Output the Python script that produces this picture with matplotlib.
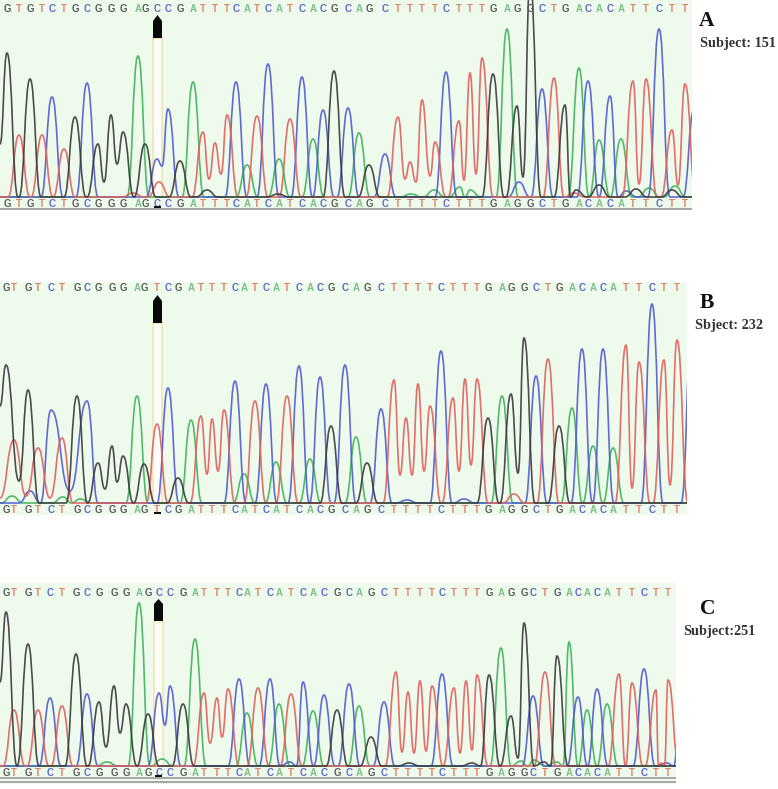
import matplotlib
matplotlib.use("Agg")
import matplotlib.pyplot as plt
from matplotlib.patches import PathPatch, Rectangle, Polygon
from matplotlib.path import Path

W, H = 778, 789

# Panel A, called peaks: base, scan position, signal
A_bases = "GTGTCTGCGGGAGCCGATTTCATCATCACGCAGCTTTTCTTTGAGGCTGACACATTCTT"
A_x = [7, 19, 30, 42, 52, 64, 75, 87, 98, 111, 123, 138, 145, 157, 168, 180, 193, 203, 215, 227,
       236, 247, 257, 268, 279, 290, 302, 313, 323, 334, 348, 359, 369, 385,
       398, 410, 422, 435, 446, 459, 470, 482, 493, 507, 517, 530, 542, 554, 565, 579, 588, 599,
       610, 621, 633, 646, 659, 672, 685]
A_h = [144, 62, 118, 62, 100, 48, 80, 114, 53, 82, 65, 141, 53, 38, 88, 36, 115, 65, 54, 82,
       115, 32, 81, 133, 38, 78, 120, 58, 87, 126, 89, 64, 32, 43,
       80, 35, 97, 55, 125, 76, 124, 139, 123, 168, 91, 215, 108, 119, 92, 129, 116, 57,
       101, 58, 116, 118, 168, 67, 113]
# small uncalled peaks
A_minor_base = list("GGGGGGAAAAAACCCTTT")
A_minor_x = [207, 278, 576, 599, 636, 672, 460, 470, 434, 649, 675, 411, 519, 626, 694, 133, 159, 574]
A_minor_h = [7, 3, 7, 12, 8, 7, 10, 7, 7, 9, 11, 3, 15, 6, 87, 4, 15, 4]
# troughs between merged peaks, and trace start
A_valley_base = list("GGGCTTTTTTTTTG")
A_valley_x = [0, 104, 117, 162, 209, 221, 405, 416, 430, 464, 476, 639, 678, 523]
A_valley_h = [53, 15, 33, 31, 18, 23, 18, 15, 21, 17, 23, 13, 12, 20]

# Panel B
B_bases = "GTGTCTGCGGGAGTCGATTTCATCATCACGCAGCTTTTCTTTGAGGCTGACACATTCTT"
B_x = [6, 14, 28, 38, 51, 62, 77, 87, 98, 112, 123, 137, 144, 157, 168, 178, 191, 201, 212, 224,
       235, 244, 255, 266, 276, 287, 299, 310, 320, 331, 345, 356, 367, 381,
       394, 406, 418, 430, 441, 453, 465, 477, 488, 502, 511, 524, 536, 548, 559, 572, 582, 593,
       603, 613, 626, 639, 652, 664, 677]
B_h = [138, 63, 113, 55, 93, 65, 107, 102, 40, 57, 47, 107, 39, 79, 115, 25, 83, 87, 84, 93,
       122, 29, 102, 119, 41, 107, 137, 44, 126, 77, 138, 66, 40, 94,
       123, 85, 119, 97, 152, 105, 124, 124, 85, 107, 109, 165, 127, 144, 77, 95, 154, 57,
       154, 55, 158, 141, 199, 143, 163]
B_minor_base = list("TCCCCAAA")
B_minor_x = [514, 407, 464, 30, 692, 12, 63, 80]
B_minor_h = [9, 3, 4, 12, 170, 7, 6, 4]
B_valley_base = list("GGGGGTTTTTTTTTTTTC")
B_valley_x = [0, 19, 105, 117, 518, 26, 207, 218, 400, 412, 424, 459, 471, 632, 670, 0, 50, 70]
B_valley_h = [97, 22, 14, 21, 30, 7, 29, 32, 28, 28, 32, 32, 38, 15, 18, 5, 5, 12]

# Panel C
C_bases = "GTGTCTGCGGGAGCCGATTTCATCATCACGCAGCTTTTCTTTGAGGCTGACACATTCTT"
C_x = [6, 14, 28, 38, 50, 62, 76, 87, 99, 114, 126, 139, 148, 159, 170, 183, 195, 204, 217, 228,
       239, 247, 258, 270, 279, 291, 303, 313, 324, 337, 349, 359, 371, 384,
       396, 408, 420, 432, 442, 454, 466, 477, 489, 501, 511, 524, 533, 545, 557, 569, 578, 587,
       597, 607, 619, 632, 644, 656, 668]
C_h = [154, 56, 122, 56, 68, 60, 112, 72, 64, 80, 62, 163, 52, 73, 80, 62, 127, 73, 68, 77,
       87, 53, 78, 87, 62, 72, 84, 55, 71, 56, 82, 60, 29, 64,
       94, 74, 85, 80, 92, 78, 85, 91, 91, 118, 50, 143, 70, 94, 110, 124, 69, 56,
       77, 62, 92, 83, 97, 76, 86]
C_minor_base = list("AAAAAGGGCCCT")
C_minor_x = [107, 162, 521, 534, 557, 409, 472, 544, 290, 667, 680, 661]
C_minor_h = [4, 7, 5, 6, 4, 3, 3, 4, 4, 3, 44, 3]
C_valley_base = list("GGGCTTTTTTTG")
C_valley_x = [0, 106, 120, 165, 210, 222, 402, 414, 426, 460, 472, 518]
C_valley_h = [84, 19, 33, 41, 23, 29, 14, 13, 15, 13, 16, 8]

TRACE = {"A": "#3fb35a", "C": "#4f5ccf", "T": "#e0605c", "G": "#3a3a3a"}
LETTER = {"A": "#7cbf88", "C": "#5f68c8", "T": "#dd8468", "G": "#5c5c5c"}
FOOT = 11


def trace_path(base, bases, xs, hs, minor, valleys):
    peaks = [(x, h, 1) for b, x, h in zip(bases, xs, hs) if b == base]
    peaks += [(x, h, 1) for b, x, h in zip(*minor) if b == base]
    troughs = [(x, h, 0) for b, x, h in zip(*valleys) if b == base]
    pts = sorted(peaks + troughs)

    # knots: peaks, troughs, and feet on the baseline between separate peaks
    knots = []
    for i, (x, h, is_peak) in enumerate(pts):
        if i > 0 and is_peak and pts[i - 1][2]:
            gap = x - pts[i - 1][0]
            if gap > 2 * FOOT:
                knots.append((pts[i - 1][0] + FOOT, 0))
                knots.append((x - FOOT, 0))
            else:
                knots.append((pts[i - 1][0] + gap / 2, 0))
        elif i == 0 and is_peak:
            knots.append((x - FOOT, 0))
        knots.append((x, h))
    knots.append((pts[-1][0] + FOOT, 0))
    knots.append((700, 0))
    if knots[0][0] > 0:
        knots.insert(0, (0, 0))

    verts = [knots[0]]
    codes = [Path.MOVETO]
    for (x0, y0), (x1, y1) in zip(knots[:-1], knots[1:]):
        d = (x1 - x0) * 0.5
        verts += [(x0 + d, y0), (x1 - d, y1), (x1, y1)]
        codes += [Path.CURVE4] * 3
    return Path(verts, codes)


def draw_panel(left, right, top, bottom, baseline, top_row, bot_row, band, block_top, tip,
               bases, xs, hs, minor, valleys, strips):
    ax = fig.add_axes([left / W, 1 - bottom / H, (right - left) / W, (bottom - top) / H])
    ax.set_xlim(0, right - left)
    ax.set_ylim(baseline - bottom, baseline - top)
    ax.set_facecolor("#eefaec")
    ax.set_xticks([])
    ax.set_yticks([])
    for s in ax.spines.values():
        s.set_visible(False)

    # selected base marker
    b0, b1 = band
    block_bot = block_top[1]
    ax.add_patch(Rectangle((b0, 0), b1 - b0, baseline - block_bot, fc="#fffefa", ec="#efe6b0", lw=1.2, zorder=1))
    ax.add_patch(Polygon([(b0, baseline - block_bot), (b0, baseline - block_top[0]),
                          ((b0 + b1) / 2, baseline - tip), (b1, baseline - block_top[0]),
                          (b1, baseline - block_bot)], fc="#0a0a0a", ec="none", zorder=2))

    for base in "ACTG":
        ax.add_patch(PathPatch(trace_path(base, bases, xs, hs, minor, valleys), fc="none",
                               ec=TRACE[base], lw=1.2, alpha=0.9, zorder=3))

    for b, x in zip(bases, xs):
        for row in (top_row, bot_row):
            ax.text(x, baseline - row, b, color=LETTER[b], fontsize=7, fontweight="bold",
                    family="Liberation Sans", ha="center", va="center", zorder=4)
    ax.add_patch(Rectangle((b0 + 1, baseline - bot_row - 4), b1 - b0 - 2, 2, fc="#111111", ec="none", zorder=5))
    for y0, y1 in strips:
        ax.add_patch(Rectangle((0, baseline - y1), right - left, y1 - y0, fc="#a8a8a8", ec="none", zorder=5))
    return ax


fig = plt.figure(figsize=(W / 100, H / 100), dpi=100, facecolor="white")

draw_panel(0, 692, 0, 210, 197, 9, 204, (153, 162), (21, 38), 15, A_bases, A_x, A_h,
           (A_minor_base, A_minor_x, A_minor_h), (A_valley_base, A_valley_x, A_valley_h), [(208, 210)])
draw_panel(0, 687, 282, 515, 503, 288, 510, (153, 162), (301, 323), 295, B_bases, B_x, B_h,
           (B_minor_base, B_minor_x, B_minor_h), (B_valley_base, B_valley_x, B_valley_h), [])
draw_panel(0, 676, 583, 784, 766, 593, 773, (154, 163), (604, 621), 599, C_bases, C_x, C_h,
           (C_minor_base, C_minor_x, C_minor_h), (C_valley_base, C_valley_x, C_valley_h),
           [(777, 779), (781, 783)])

serif = "Liberation Serif"
for txt, x, y, size, ha in [("A", 707, 21, 15.5, "center"), ("B", 707, 303, 15.5, "center"),
                            ("C", 708, 609, 15.5, "center"),
                            ("Subject: 151", 700, 44, 10.3, "left"),
                            ("Sbject: 232", 695, 325, 10.3, "left"),
                            ("Subject:251", 683, 631, 10.3, "left")]:
    fig.text(x / W, 1 - y / H, txt, family=serif, fontweight="bold", fontsize=size,
             color="#111111" if len(txt) == 1 else "#333333", ha=ha, va="center")

fig.savefig("out.png", dpi=100)
